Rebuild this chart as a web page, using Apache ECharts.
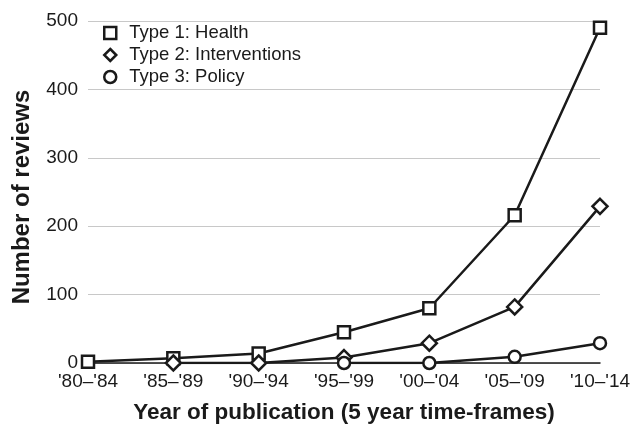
<!DOCTYPE html>
<html>
<head>
<meta charset="utf-8">
<script src="https://cdn.jsdelivr.net/npm/echarts@6/dist/echarts.min.js"></script>
<style>
  html, body { margin: 0; padding: 0; background: #fff; }
  #chart { width: 631px; height: 425px; }
</style>
</head>
<body>
<div id="chart"></div>
<script>
const periods = ["'80–'84", "'85–'89", "'90–'94", "'95–'99", "'00–'04", "'05–'09", "'10–'14"];
const health = [2, 7, 14, 45, 80, 216, 490];
const interventions = [null, 0, 0, 8, 29, 82, 229];
const policy = [null, null, null, 0, 0, 9, 29];
const yTicks = [0, 100, 200, 300, 400, 500];

const ink = "#1a1a1a";
const font = "Liberation Sans, Arial, Helvetica, sans-serif";

const chart = echarts.init(document.getElementById("chart"));

function lineSeries(name, data, symbol, size) {
  return {
    name,
    type: "line",
    data,
    symbol,
    symbolSize: size,
    showAllSymbol: true,
    lineStyle: { color: ink, width: 2.5 },
    itemStyle: { color: "#fff", borderColor: ink, borderWidth: 2.5 },
    emphasis: { disabled: true },
  };
}

chart.setOption({
  animation: false,
  grid: { left: 88, right: 31, top: 21, bottom: 62, outerBoundsMode: "none" },
  legend: {
    orient: "vertical",
    left: 98,
    top: 18,
    itemGap: 2,
    itemWidth: 12,
    itemHeight: 12,
    textStyle: { fontFamily: font, fontSize: 18.5, lineHeight: 20, color: ink, padding: [0, 0, 0, 8] },
    data: [
      { name: "Type 1: Health", icon: "rect" },
      { name: "Type 2: Interventions", icon: "diamond" },
      { name: "Type 3: Policy", icon: "circle" },
    ],
    itemStyle: { color: "#fff", borderColor: ink, borderWidth: 2.5 },
  },
  xAxis: {
    type: "category",
    data: periods,
    boundaryGap: false,
    axisLine: { lineStyle: { color: ink, width: 1.5 } },
    axisTick: { show: false },
    axisLabel: { fontFamily: font, fontSize: 19, color: ink, margin: 9 },
    name: "Year of publication (5 year time-frames)",
    nameLocation: "middle",
    nameGap: 38,
    nameTextStyle: { fontFamily: font, fontSize: 22.5, fontWeight: "bold", color: ink },
  },
  yAxis: {
    type: "value",
    min: yTicks[0],
    max: yTicks[yTicks.length - 1],
    interval: 100,
    axisLine: { show: false },
    axisTick: { show: false },
    splitLine: { lineStyle: { color: "#c8c8c8", width: 1 } },
    axisLabel: { fontFamily: font, fontSize: 19, color: ink, margin: 10 },
    name: "Number of reviews",
    nameLocation: "middle",
    nameGap: 54,
    nameTextStyle: { fontFamily: font, fontSize: 24, fontWeight: "bold", color: ink, padding: [0, 10, 0, 0] },
  },
  series: [
    lineSeries("Type 1: Health", health, "rect", 12),
    lineSeries("Type 2: Interventions", interventions, "diamond", 15),
    lineSeries("Type 3: Policy", policy, "circle", 12),
  ],
});
</script>
</body>
</html>
